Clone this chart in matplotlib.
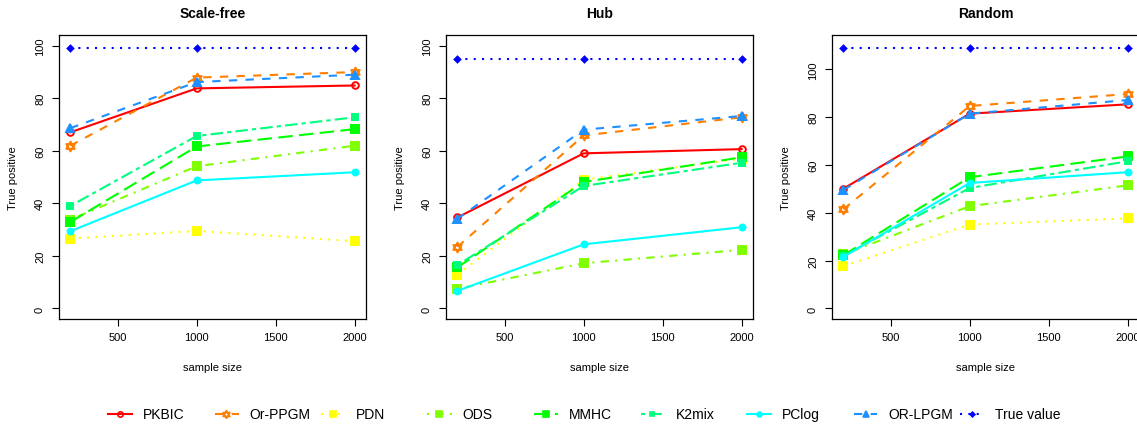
import matplotlib
matplotlib.use("Agg")
import matplotlib.pyplot as plt
from matplotlib.lines import Line2D
from matplotlib.path import Path

plt.rcParams['font.family'] = ['Liberation Sans', 'DejaVu Sans']

sample_size = [200, 1000, 2000]
panels = ["Scale-free", "Hub", "Random"]
methods = ["PKBIC", "Or-PPGM", "PDN", "ODS", "MMHC", "K2mix", "PClog", "OR-LPGM", "True value"]

# true positives per method, one dict per panel
scale_free = {
    "PKBIC":      [67.0, 83.7, 84.8],
    "Or-PPGM":    [61.9, 87.8, 89.9],
    "PDN":        [26.6, 29.5, 25.6],
    "ODS":        [33.8, 54.1, 61.9],
    "MMHC":       [32.9, 61.6, 68.2],
    "K2mix":      [39.0, 65.6, 72.7],
    "PClog":      [29.4, 48.7, 51.8],
    "OR-LPGM":    [68.6, 86.1, 88.9],
    "True value": [99, 99, 99],
}
hub = {
    "PKBIC":      [34.6, 59.0, 60.6],
    "Or-PPGM":    [23.4, 65.8, 72.7],
    "PDN":        [12.9, 49.0, 57.0],
    "ODS":        [7.5, 17.2, 22.3],
    "MMHC":       [15.6, 48.1, 57.5],
    "K2mix":      [16.5, 46.6, 55.4],
    "PClog":      [6.7, 24.4, 30.9],
    "OR-LPGM":    [34.1, 68.0, 73.2],
    "True value": [95, 95, 95],
}
random_net = {
    "PKBIC":      [50.1, 81.5, 85.4],
    "Or-PPGM":    [41.5, 84.7, 89.7],
    "PDN":        [17.7, 35.1, 37.7],
    "ODS":        [22.6, 42.8, 51.5],
    "MMHC":       [22.3, 54.9, 63.6],
    "K2mix":      [22.0, 50.4, 61.6],
    "PClog":      [21.6, 52.5, 57.0],
    "OR-LPGM":    [49.6, 81.5, 87.2],
    "True value": [109, 109, 109],
}
panel_data = [scale_free, hub, random_net]
ylims = [(0, 100), (0, 100), (0, 110)]

# hexagram marker (R pch=11): two triangles around the same centroid
hexagram = Path(
    [(0, 1), (-0.866, -0.5), (0.866, -0.5), (0, 1),
     (0, -1), (-0.866, 0.5), (0.866, 0.5), (0, -1)],
    [Path.MOVETO, Path.LINETO, Path.LINETO, Path.CLOSEPOLY,
     Path.MOVETO, Path.LINETO, Path.LINETO, Path.CLOSEPOLY])

# R-like styles: colour, dash pattern, (marker, filled, size)
styles = {
    "PKBIC":      dict(color="#FF0000", dashes=None, marker=("o", False, 4.8)),
    "Or-PPGM":    dict(color="#FF7F00", dashes=(4, 4), marker=(hexagram, False, 7)),
    "PDN":        dict(color="#FFFF00", dashes=(1, 3), marker=("s", True, 5.2)),
    "ODS":        dict(color="#7FFF00", dashes=(1, 3, 4, 3), marker=("s", True, 5.2)),
    "MMHC":       dict(color="#00FF00", dashes=(7, 3), marker=("s", True, 5.2)),
    "K2mix":      dict(color="#00FF7F", dashes=(2, 2, 6, 2), marker=("s", True, 4.2)),
    "PClog":      dict(color="#00FFFF", dashes=None, marker=("o", True, 4.3)),
    "OR-LPGM":    dict(color="#1E90FF", dashes=(4, 4), marker=("^", True, 5.2)),
    "True value": dict(color="#0000FF", dashes=(1, 3), marker=("D", True, 3)),
}
LW = 1.5

fig = plt.figure(figsize=(11.37, 4.27), dpi=100)
lefts = [59 / 1137, 446 / 1137, 832 / 1137]
W = 307 / 1137
B = 1 - 320 / 427
H = 284 / 427

for i, (name, data) in enumerate(zip(panels, panel_data)):
    ax = fig.add_axes([lefts[i], B, W, H])
    for m in methods:
        st = styles[m]
        kw = dict(color=st["color"], lw=LW)
        if st["dashes"] is None:
            kw["linestyle"] = "-"
        else:
            kw["dashes"] = st["dashes"]
        ax.plot(sample_size, data[m], **kw)
        mk, filled, ms = st["marker"]
        ax.plot(sample_size, data[m], linestyle="none", marker=mk, ms=ms,
                mfc=st["color"] if filled else "none", mec=st["color"], mew=1.4)
    lo, hi = ylims[i]
    pad = (hi - lo) * 0.04
    ax.set_ylim(lo - pad, hi + pad)
    ax.set_xlim(200 - 72, 2000 + 72)
    ax.set_xticks([500, 1000, 1500, 2000])
    ax.set_yticks([0, 20, 40, 60, 80, 100])
    ax.tick_params(direction="out", length=5, width=0.8, labelsize=8, pad=4.5)
    ax.tick_params(axis="y", pad=5)
    for lab in ax.get_yticklabels():
        lab.set_rotation(90)
        lab.set_va("center")
    ax.set_title(name, fontsize=10, fontweight="bold", pad=13)
    ax.set_xlabel("sample size", fontsize=8, labelpad=14)
    ax.set_ylabel("True positive", fontsize=8, labelpad=12)
    for sp in ax.spines.values():
        sp.set_linewidth(0.9)

# horizontal legend with equal item spacing, like R's legend(horiz=TRUE)
ly = 1 - 415 / 427
for k, m in enumerate(methods):
    st = styles[m]
    x0 = (108 + 106.5 * k) / 1137
    x1 = (132 + 106.5 * k) / 1137
    kw = dict(color=st["color"], lw=LW, transform=fig.transFigure)
    if st["dashes"] is None:
        kw["linestyle"] = "-"
    else:
        kw["dashes"] = st["dashes"]
    fig.add_artist(Line2D([x0, x1], [ly, ly], **kw))
    mk, filled, ms = st["marker"]
    fig.add_artist(Line2D([(x0 + x1) / 2], [ly], linestyle="none", marker=mk,
                          ms=ms * 0.8, mfc=st["color"] if filled else "none",
                          mec=st["color"], mew=1.2, transform=fig.transFigure))
    fig.text((143 + 106.5 * k) / 1137, ly, m, fontsize=10, va="center", ha="left")

fig.savefig("out.png", dpi=100)
